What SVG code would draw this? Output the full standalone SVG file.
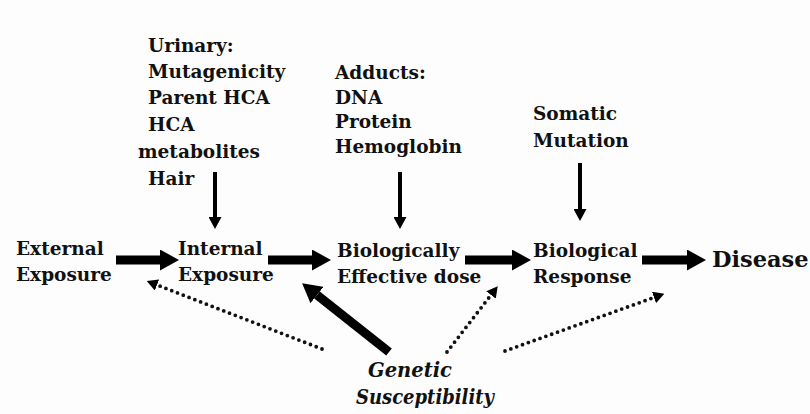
<svg xmlns="http://www.w3.org/2000/svg" width="810" height="414" viewBox="0 0 810 414">
  <style>
    .t { font-family: "DejaVu Serif", "Liberation Serif", serif; font-weight: bold; font-size: 18.5px; fill: #111; }
    .big { font-size: 22.5px; }
    .it { font-style: italic; font-size: 19.5px; }
    .thick { stroke: #000; stroke-width: 9; fill: none; }
    .thin { stroke: #000; stroke-width: 4; fill: none; }
    .dot { stroke: #111; stroke-width: 3.8; stroke-linecap: round; stroke-dasharray: 0 6.2; fill: none; }
  </style>
  <defs>
    <marker id="hBig" markerUnits="userSpaceOnUse" markerWidth="19" markerHeight="21" refX="0" refY="10.5" orient="auto">
      <path d="M0,0 L19,10.5 L0,21 z" fill="#000"/>
    </marker>
    <marker id="hSmall" markerUnits="userSpaceOnUse" markerWidth="12" markerHeight="13" refX="0" refY="6.5" orient="auto">
      <path d="M0,0 L12,6.5 L0,13 z" fill="#000"/>
    </marker>
    <marker id="hDot" markerUnits="userSpaceOnUse" markerWidth="11" markerHeight="12" refX="0" refY="6" orient="auto">
      <path d="M0,0 L11,6 L0,12 z" fill="#000"/>
    </marker>
  </defs>
  <rect width="810" height="414" fill="#fdfdfd"/>

  <g id="urinary">
    <text class="t" x="148" y="52">Urinary:</text>
    <text class="t" x="148" y="78">Mutagenicity</text>
    <text class="t" x="148" y="104">Parent HCA</text>
    <text class="t" x="148" y="131">HCA</text>
    <text class="t" x="138" y="158">metabolites</text>
    <text class="t" x="148" y="185">Hair</text>
  </g>
  <g id="adducts">
    <text class="t" x="335" y="79">Adducts:</text>
    <text class="t" x="335" y="104">DNA</text>
    <text class="t" x="335" y="128">Protein</text>
    <text class="t" x="335" y="153">Hemoglobin</text>
  </g>
  <g id="somatic">
    <text class="t" x="533" y="120">Somatic</text>
    <text class="t" x="533" y="147">Mutation</text>
  </g>
  <g id="external">
    <text class="t" x="16" y="255">External</text>
    <text class="t" x="16" y="281">Exposure</text>
  </g>
  <g id="internal">
    <text class="t" x="178" y="255">Internal</text>
    <text class="t" x="178" y="281">Exposure</text>
  </g>
  <g id="bed">
    <text class="t" x="337" y="257">Biologically</text>
    <text class="t" x="337" y="283">Effective dose</text>
  </g>
  <g id="response">
    <text class="t" x="533" y="257">Biological</text>
    <text class="t" x="533" y="283">Response</text>
  </g>
  <g id="disease">
    <text class="t big" x="712" y="267">Disease</text>
  </g>
  <g id="genetic">
    <text class="t it" x="368" y="377">Genetic</text>
    <text class="t it" x="356" y="404" textLength="138" lengthAdjust="spacingAndGlyphs">Susceptibility</text>
  </g>

  <g id="connectors">
    <line class="thick" x1="116" y1="260" x2="160" y2="260" marker-end="url(#hBig)"/>
    <line class="thick" x1="268" y1="260" x2="312" y2="260" marker-end="url(#hBig)"/>
    <line class="thick" x1="465" y1="260" x2="512" y2="260" marker-end="url(#hBig)"/>
    <line class="thick" x1="642" y1="260" x2="687" y2="260" marker-end="url(#hBig)"/>

    <line class="thin" x1="215" y1="172" x2="215" y2="217" marker-end="url(#hSmall)"/>
    <line class="thin" x1="400" y1="172" x2="400" y2="217" marker-end="url(#hSmall)"/>
    <line class="thin" x1="580" y1="163" x2="580" y2="209" marker-end="url(#hSmall)"/>

    <line class="thick" x1="389" y1="352" x2="317" y2="295" marker-end="url(#hBig)"/>

    <line class="dot" x1="322" y1="349" x2="157" y2="285" marker-end="url(#hDot)"/>
    <line class="dot" x1="447" y1="352" x2="491" y2="295" marker-end="url(#hDot)"/>
    <line class="dot" x1="505" y1="351" x2="654" y2="297.5" marker-end="url(#hDot)"/>
  </g>
</svg>
